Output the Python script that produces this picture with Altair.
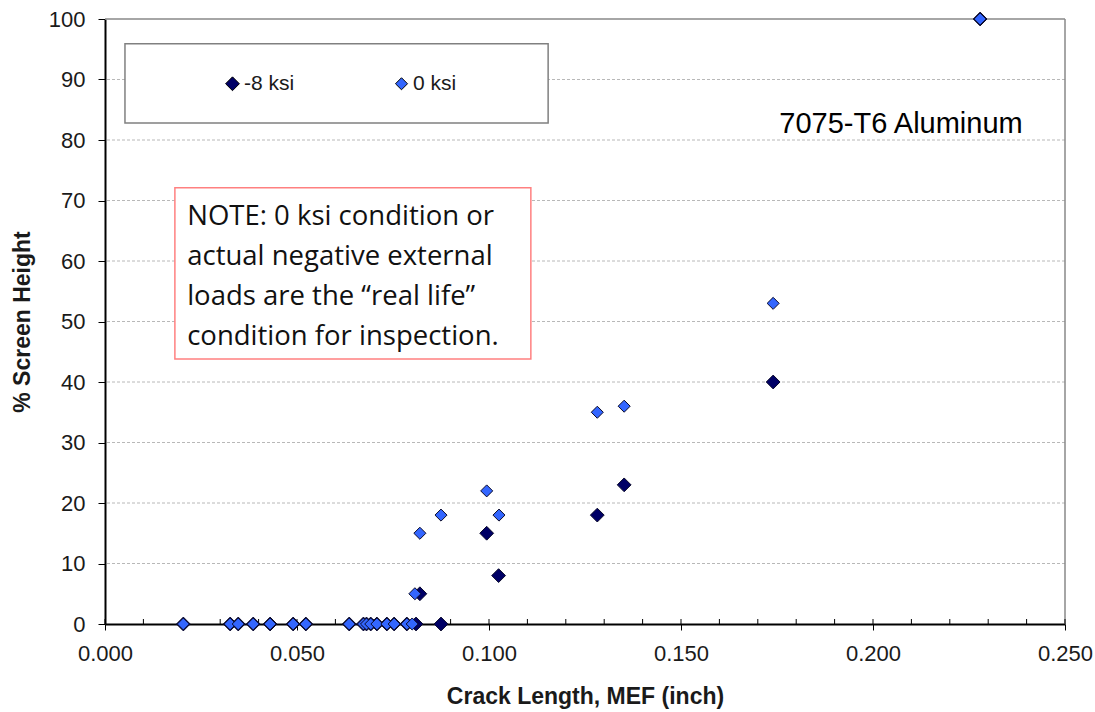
import altair as alt
import pandas as pd

# Ultrasonic response vs. crack length for two applied stress levels
series_names = ["-8 ksi", "0 ksi"]
series_colors = ["#000066", "#3366ff"]

crack_neg8 = [0.0204, 0.0326, 0.0347, 0.0386, 0.0430, 0.0490, 0.0523, 0.0636,
              0.0673, 0.0681, 0.0692, 0.0708, 0.0734, 0.0753, 0.0786, 0.0810,
              0.0820, 0.0875, 0.0994, 0.1025, 0.1282, 0.1352, 0.1740, 0.2279]
fsh_neg8 = [0, 0, 0, 0, 0, 0, 0, 0,
            0, 0, 0, 0, 0, 0, 0, 0,
            5, 0, 15, 8, 18, 23, 40, 100]

crack_0 = [0.0204, 0.0326, 0.0347, 0.0386, 0.0430, 0.0490, 0.0523, 0.0636,
           0.0673, 0.0681, 0.0692, 0.0708, 0.0734, 0.0753, 0.0786, 0.0800,
           0.0807, 0.0820, 0.0875, 0.0994, 0.1026, 0.1282, 0.1352, 0.1740, 0.2279]
fsh_0 = [0, 0, 0, 0, 0, 0, 0, 0,
         0, 0, 0, 0, 0, 0, 0, 0,
         5, 15, 18, 22, 18, 35, 36, 53, 100]

x_major = [0.0, 0.05, 0.10, 0.15, 0.20, 0.25]
x_minor = [0.00, 0.01, 0.02, 0.03, 0.04, 0.05, 0.06, 0.07, 0.08, 0.09, 0.10,
           0.11, 0.12, 0.13, 0.14, 0.15, 0.16, 0.17, 0.18, 0.19, 0.20,
           0.21, 0.22, 0.23, 0.24, 0.25]
y_ticks = [0, 10, 20, 30, 40, 50, 60, 70, 80, 90, 100]
y_grid = [10, 20, 30, 40, 50, 60, 70, 80, 90]

note_lines = ["NOTE: 0 ksi condition or",
              "actual negative external",
              "loads are the \u201creal life\u201d",
              "condition for inspection."]
material_label = "7075-T6 Aluminum"

W, H = 960, 605
AX_FONT = "Liberation Sans"

points = pd.DataFrame({
    "crack": crack_neg8 + crack_0,
    "fsh": fsh_neg8 + fsh_0,
    "series": [series_names[0]] * len(crack_neg8) + [series_names[1]] * len(crack_0),
})

xs = alt.Scale(domain=[0, 0.25], nice=False, zero=False)
ys = alt.Scale(domain=[0, 100], nice=False, zero=False)

# dashed horizontal gridlines
grid = alt.Chart(pd.DataFrame({"fsh": y_grid})).mark_rule(
    color="#b8b8b8", strokeWidth=1, strokeDash=[3, 2]
).encode(y=alt.Y("fsh:Q", scale=ys))

# plot-area frame on top and right
frame_top = alt.Chart(pd.DataFrame({"crack": [0.0], "crack2": [0.25], "fsh": [100]})).mark_rule(
    color="#888888", strokeWidth=1.5
).encode(x=alt.X("crack:Q", scale=xs), x2="crack2:Q", y=alt.Y("fsh:Q", scale=ys))
frame_right = alt.Chart(pd.DataFrame({"crack": [0.25], "fsh": [0], "fsh2": [100]})).mark_rule(
    color="#888888", strokeWidth=1.5
).encode(x=alt.X("crack:Q", scale=xs), y=alt.Y("fsh:Q", scale=ys), y2="fsh2:Q")

# minor ticks inside the plot along the x axis
minor = alt.Chart(pd.DataFrame({"crack": x_minor})).mark_rule(
    color="#000000", strokeWidth=1
).encode(x=alt.X("crack:Q", scale=xs), y=alt.value(H - 5), y2=alt.value(H))

# legend box and note box
legend_box = alt.Chart(pd.DataFrame({"crack": [0.0052], "crack2": [0.1154],
                                     "fsh": [82.8], "fsh2": [95.9]})).mark_rect(
    fill="#ffffff", stroke="#808080", strokeWidth=1.5
).encode(x=alt.X("crack:Q", scale=xs), x2="crack2:Q",
         y=alt.Y("fsh:Q", scale=ys), y2="fsh2:Q")

note_box = alt.Chart(pd.DataFrame({"crack": [0.0182], "crack2": [0.1109],
                                   "fsh": [43.8], "fsh2": [72.1]})).mark_rect(
    fill="#ffffff", stroke="#ff8080", strokeWidth=1.5
).encode(x=alt.X("crack:Q", scale=xs), x2="crack2:Q",
         y=alt.Y("fsh:Q", scale=ys), y2="fsh2:Q")

note_text = alt.Chart(pd.DataFrame({"crack": [0.0214], "fsh": [65.9]})).mark_text(
    text=note_lines, align="left", baseline="alphabetic", font="Open Sans",
    fontSize=27.5, lineHeight=40, color="#111111"
).encode(x=alt.X("crack:Q", scale=xs), y=alt.Y("fsh:Q", scale=ys))

material_text = alt.Chart(pd.DataFrame({"crack": [0.2073], "fsh": [81.2]})).mark_text(
    text=material_label, align="center", baseline="alphabetic", font=AX_FONT,
    fontSize=29, color="#000000"
).encode(x=alt.X("crack:Q", scale=xs), y=alt.Y("fsh:Q", scale=ys))

scatter = alt.Chart(points).mark_point(
    shape="diamond", filled=True, opacity=1, stroke="#0a0a2a", strokeWidth=1
).encode(
    x=alt.X("crack:Q", scale=xs, axis=alt.Axis(
        title="Crack Length, MEF (inch)", values=x_major, format=".3f", grid=False,
        labelFlush=False, tickSize=6, tickColor="#000000", domainColor="#000000", domainWidth=2,
        labelFont=AX_FONT, labelFontSize=22, labelColor="#1a1a1a", labelPadding=13,
        titleFont=AX_FONT, titleFontSize=23, titleFontWeight="bold", titleColor="#1a1a1a",
        titlePadding=21)),
    y=alt.Y("fsh:Q", scale=ys, axis=alt.Axis(
        title="% Screen Height", values=y_ticks, grid=False, labelFlush=False,
        tickSize=7, tickColor="#000000", domainColor="#000000", domainWidth=2,
        labelFont=AX_FONT, labelFontSize=22, labelColor="#1a1a1a", labelPadding=13,
        titleFont=AX_FONT, titleFontSize=23, titleFontWeight="bold", titleColor="#1a1a1a",
        titlePadding=14)),
    color=alt.Color("series:N", scale=alt.Scale(domain=series_names, range=series_colors),
                    legend=alt.Legend(
                        title=None, orient="none", legendX=117, legendY=54,
                        direction="horizontal", columnPadding=96,
                        symbolType="diamond", symbolSize=80, symbolStrokeColor="#000000",
                        symbolStrokeWidth=1, symbolOpacity=1,
                        labelFont=AX_FONT, labelFontSize=21, labelColor="#1a1a1a",
                        labelOffset=1)),
    size=alt.Size("series:N", scale=alt.Scale(domain=series_names, range=[190, 145]), legend=None),
)

chart = alt.layer(
    grid, frame_top, frame_right, minor, legend_box, note_box, note_text, material_text, scatter
).properties(
    width=W, height=H,
    autosize=alt.AutoSizeParams(type="none"),
    padding={"left": 105, "top": 19, "right": 30, "bottom": 88},
    background="#ffffff",
).configure_view(stroke=None)

chart.save("out.html", embed_options={"renderer": "svg", "actions": False})
